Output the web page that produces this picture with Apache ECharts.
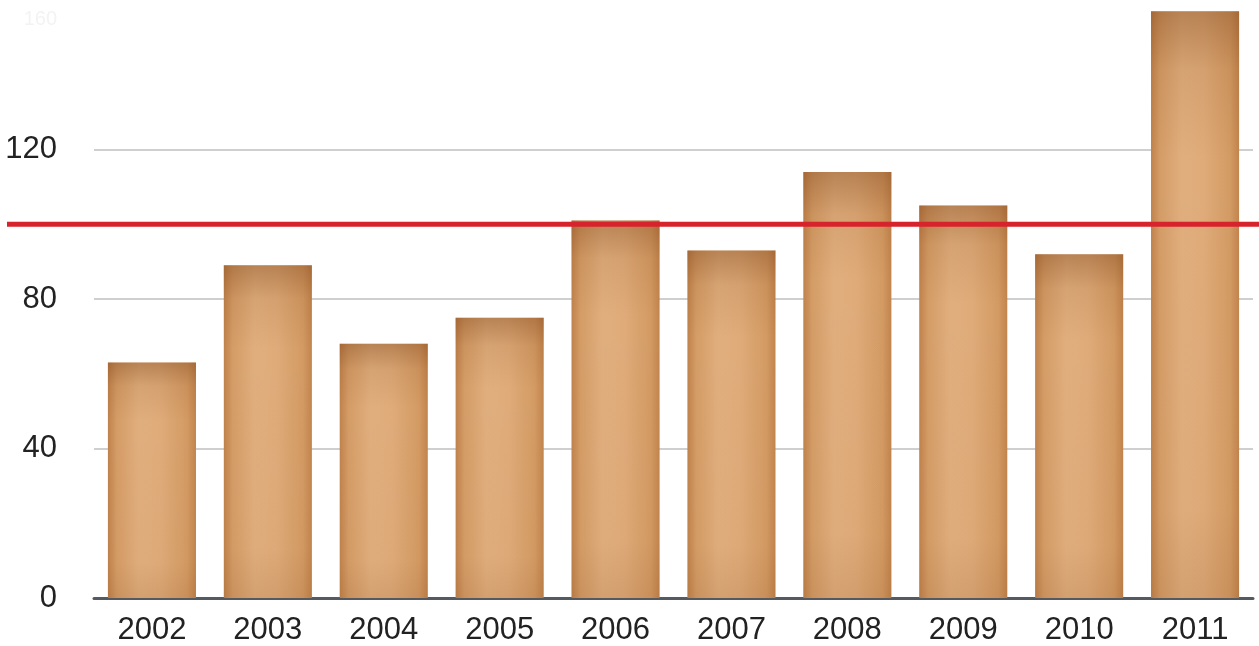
<!DOCTYPE html>
<html><head><meta charset="utf-8">
<script src="https://cdn.jsdelivr.net/npm/echarts@6/dist/echarts.min.js"></script>
<style>html,body{margin:0;padding:0;background:#fff}#c{width:1259px;height:646px}</style>
</head><body><div id="c"></div>
<script>
const years = ['2002','2003','2004','2005','2006','2007','2008','2009','2010','2011'];
const values = [63, 89, 68, 75, 101, 93, 114, 105, 92, 157];
const refLine = 100;
const yTicks = [0, 40, 80, 120, 160];

const chart = echarts.init(document.getElementById('c'));
const font = 'Liberation Sans, Arial, Helvetica, sans-serif';
chart.setOption({
  animation: false,
  grid: [
    {left: 94, right: 6, top: -2, bottom: 48},
    {left: 7, right: 0, top: -2, bottom: 48}
  ],
  xAxis: [
    {type: 'category', data: years, gridIndex: 0,
     axisLine: {lineStyle: {color: '#555a60', width: 3}},
     axisTick: {show: false},
     axisLabel: {color: '#222', fontSize: 31, fontFamily: font, margin: 17}},
    {type: 'value', gridIndex: 1, min: 0, max: 1, show: false}
  ],
  yAxis: [
    {type: 'value', gridIndex: 0, min: 0, max: yTicks[yTicks.length-1], interval: 40,
     axisLine: {show: false}, axisTick: {show: false},
     splitLine: {lineStyle: {color: ['#cfcfcf','#cfcfcf','#cfcfcf','#cfcfcf','rgba(0,0,0,0)'], width: 2}},
     axisLabel: {color: '#222', fontSize: 31, fontFamily: font, margin: 37,
       formatter: v => v === 160 ? '{f|160}' : String(v),
       rich: {f: {color: '#f3f3f3', fontSize: 20, fontFamily: font, padding: [38, 0, 0, 0]}}}},
    {type: 'value', gridIndex: 1, min: 0, max: yTicks[yTicks.length-1], show: false}
  ],
  series: [
    {type: 'bar', data: values, xAxisIndex: 0, yAxisIndex: 0, barCategoryGap: '24%',
     itemStyle: {color: {type: 'linear', x: 0, y: 0, x2: 1, y2: 0, colorStops: [
       {offset: 0, color: '#c0824c'}, {offset: 0.1, color: '#d49c66'},
       {offset: 0.35, color: '#e0ae7d'}, {offset: 0.6, color: '#dfab79'},
       {offset: 0.9, color: '#d39a63'}, {offset: 1, color: '#c2844d'}]}}},
    {type: 'bar', data: values, xAxisIndex: 0, yAxisIndex: 0, barCategoryGap: '24%', barGap: '-100%',
     silent: true,
     itemStyle: {color: {type: 'linear', x: 0, y: 0, x2: 0, y2: 1, colorStops: [
       {offset: 0, color: 'rgba(120,62,20,0.38)'}, {offset: 0.1, color: 'rgba(120,62,20,0.1)'},
       {offset: 0.25, color: 'rgba(120,62,20,0)'}, {offset: 0.85, color: 'rgba(120,62,20,0.02)'},
       {offset: 1, color: 'rgba(120,62,20,0.12)'}]}}},
    {type: 'line', xAxisIndex: 1, yAxisIndex: 1, data: [[0, refLine], [1, refLine]],
     symbol: 'none', lineStyle: {color: '#d7232b', width: 5}, z: 5}
  ]
});
</script></body></html>
